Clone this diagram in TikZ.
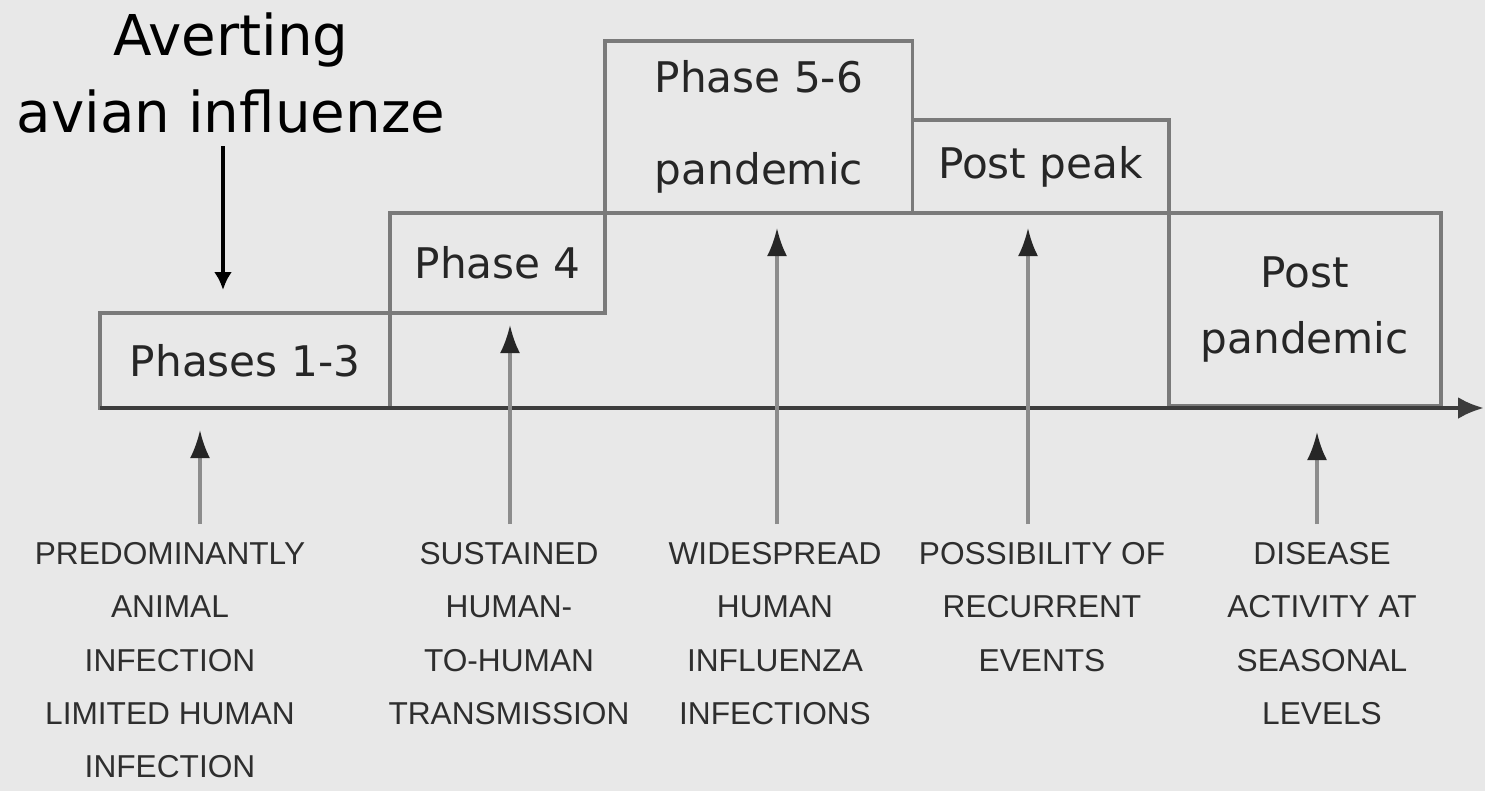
\documentclass[tikz,border=0pt]{standalone}
\usepackage{fontspec}
\setmainfont{DejaVu Sans}
\newfontfamily\capfont{Liberation Sans}
\usepackage{xcolor}
\usetikzlibrary{arrows.meta, positioning}

\definecolor{bggray}{HTML}{E8E8E8}
\definecolor{edgegray}{HTML}{7A7A7A}
\definecolor{axisgray}{HTML}{3C3C3C}
\definecolor{shaftgray}{HTML}{8C8C8C}
\definecolor{capgray}{HTML}{2E2E2E}

\begin{document}
\begin{tikzpicture}[
    x=0.01cm, y=-0.01cm,
    phasebox/.style={rectangle, draw=edgegray, line width=1.1pt, inner sep=0pt, outer sep=0pt, align=center, font=\fontsize{12}{14}\selectfont, text=black!85},
    caption/.style={align=center, inner sep=0pt, anchor=north, text=capgray, font=\capfont\fontsize{9}{15.1}\selectfont},
    uparrow/.style={draw=shaftgray, line width=0.9pt, -{Latex[length=0.28cm, width=0.2cm, color=black!85]}, shorten <=0.18cm},
    axisline/.style={draw=axisgray, line width=1.2pt, -{Latex[length=0.26cm, width=0.22cm]}},
    downarrow/.style={draw=black, line width=1.1pt, -{Latex[length=0.18cm, width=0.18cm]}, shorten <=0.12cm},
  ]
    \useasboundingbox (0,0) rectangle (1485,790);
    \fill[bggray] (-10,-10) rectangle (1495,800);

    % Title
    \node[font=\fontsize{16}{22}\selectfont, align=center, inner sep=0pt, anchor=north] (avert) at (231,12) {Averting\\avian influenze};
    \coordinate (avtip) at (223,290);

    % Phase boxes
    \node[phasebox, anchor=south west, minimum width=2.9cm, minimum height=0.95cm] (ph13) at (100,408) {Phases 1-3};
    \node[phasebox, anchor=south west, minimum width=2.15cm, minimum height=1cm] (ph4) at (ph13.north east) {Phase 4};
    \node[phasebox, anchor=south west, minimum width=3.07cm, minimum height=1.72cm] (ph56) at (ph4.north east) {Phase 5-6\\[0.42cm]pandemic};
    \node[phasebox, anchor=south west, minimum width=2.56cm, minimum height=0.93cm] (peak) at (ph56.south east) {Post peak};
    \node[phasebox, anchor=north west, minimum width=2.72cm, minimum height=1.93cm] (postpan) at (peak.south east) {Post\\[0.17cm]pandemic};
    \coordinate (axisend) at (1484,408);

    % Captions
    \node[caption] (animal) at (170,542) {PREDOMINANTLY\\ANIMAL\\INFECTION\\LIMITED HUMAN\\INFECTION};
    \node[caption] (sustained) at (509,542) {SUSTAINED\\HUMAN-\\TO-HUMAN\\TRANSMISSION};
    \node[caption] (widespread) at (775,542) {WIDESPREAD\\HUMAN\\INFLUENZA\\INFECTIONS};
    \node[caption] (recurrent) at (1042,542) {POSSIBILITY OF\\RECURRENT\\EVENTS};
    \node[caption] (seasonal) at (1322,542) {DISEASE\\ACTIVITY AT\\SEASONAL\\LEVELS};

    % Arrow tips
    \coordinate (t1) at (200,430);
    \coordinate (t2) at (510,325);
    \coordinate (t3) at (777,228);
    \coordinate (t4) at (1028,228);
    \coordinate (t5) at (1317,432);

    % Arrows
    \draw[axisline] (ph13.south west) -- (axisend);
    \draw[downarrow] (avert.south -| avtip) -- (avtip);
    \draw[uparrow] (animal.north -| t1) -- (t1);
    \draw[uparrow] (sustained.north -| t2) -- (t2);
    \draw[uparrow] (widespread.north -| t3) -- (t3);
    \draw[uparrow] (recurrent.north -| t4) -- (t4);
    \draw[uparrow] (seasonal.north -| t5) -- (t5);
  \end{tikzpicture}
\end{document}
